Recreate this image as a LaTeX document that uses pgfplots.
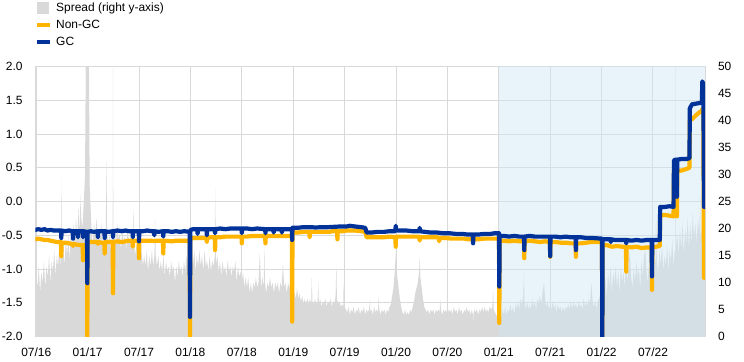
\documentclass[border=0pt]{standalone}
\usepackage{fontspec}
\setmainfont{Liberation Sans}
\usepackage{pgfplots}
\pgfplotsset{compat=1.18}
\definecolor{spreadgray}{RGB}{217,217,217}
\definecolor{gridgray}{RGB}{217,217,217}
\definecolor{ecbblue}{RGB}{0,50,153}
\definecolor{ecbyellow}{RGB}{255,180,0}
\definecolor{shade}{RGB}{205,230,244}
\pgfplotsset{linelegend/.style={legend image code/.code={\draw[##1, line cap=butt] (0bp,0bp)--(13bp,0bp);}}}

\begin{document}
\begin{tikzpicture}[font=\fontsize{12}{14}\selectfont]
\useasboundingbox (-35.5bp,-25.5bp) rectangle (708.5bp,336.5bp);
\begin{axis}[
  width=669.5bp, height=270bp, scale only axis,
  xmin=2016.493, xmax=2023.006,
  ymin=0, ymax=50,
  axis y line*=right, hide x axis,
  axis line style={draw=none},
  ytick={0,5,10,15,20,25,30,35,40,45,50},
  tick style={draw=none},
  yticklabel style={xshift=9.5bp, font=\fontsize{12}{14}\selectfont,
    /pgf/number format/assume math mode=true},
]
\addplot[fill=spreadgray, draw=none] coordinates {
(2016.4875,10) (2016.5,12) (2016.5125,9) (2016.525,13) (2016.5375,8) (2016.55,12) (2016.5625,10) (2016.575,14) (2016.5875,9) (2016.6,13)
(2016.6125,11) (2016.625,15) (2016.6375,10) (2016.65,14) (2016.6625,12) (2016.675,16) (2016.6875,11) (2016.7,15) (2016.7125,13) (2016.725,17)
(2016.7375,12) (2016.745,29) (2016.75,14)
(2016.7625,17) (2016.775,13) (2016.7875,18) (2016.8,15) (2016.8125,19) (2016.825,14) (2016.8375,20) (2016.85,16) (2016.8625,21) (2016.875,17)
(2016.8875,22) (2016.9,18) (2016.9125,24) (2016.925,19) (2016.93,26.5) (2016.9375,22) (2016.95,20) (2016.9625,25) (2016.975,30) (2016.985,60)
(2017.01,60) (2017.02,28)
(2017.0375,20) (2017.05,17) (2017.0625,21) (2017.075,18) (2017.0875,22) (2017.1,17) (2017.1125,20) (2017.125,18) (2017.1375,21) (2017.15,16)
(2017.1625,20) (2017.175,18) (2017.186,33) (2017.1875,21) (2017.2,17) (2017.2125,19) (2017.225,16) (2017.2375,20) (2017.244,18) (2017.247,60)
(2017.25,18) (2017.2625,20) (2017.275,17) (2017.2875,21) (2017.3,18) (2017.3125,19) (2017.325,16) (2017.3375,20) (2017.35,17) (2017.3625,19)
(2017.375,16) (2017.3875,20) (2017.4,18) (2017.4125,17) (2017.425,19) (2017.4375,16) (2017.445,24) (2017.45,18) (2017.4625,15) (2017.475,17)
(2017.4875,15) (2017.5,16)
(2017.5125,14) (2017.525,16) (2017.5375,13) (2017.55,15) (2017.5625,13) (2017.575,16) (2017.5875,12) (2017.6,15) (2017.6125,13) (2017.625,16)
(2017.6375,13) (2017.65,15) (2017.656,22) (2017.6625,15) (2017.675,13) (2017.6875,15) (2017.7,12) (2017.7125,14) (2017.725,12) (2017.7375,15)
(2017.75,11) (2017.7625,14) (2017.775,12) (2017.7875,13) (2017.8,11) (2017.8125,14) (2017.825,12) (2017.8375,13) (2017.85,10) (2017.8625,13)
(2017.875,11) (2017.8875,14) (2017.9,12) (2017.9125,13) (2017.925,11) (2017.9375,14) (2017.95,12) (2017.9625,15) (2017.975,13) (2017.9875,14)
(2018.0,12)
(2018.0125,15) (2018.025,13) (2018.0375,16) (2018.05,12) (2018.0625,15) (2018.075,13) (2018.0875,16) (2018.1,13) (2018.1125,15) (2018.125,12)
(2018.1375,16) (2018.15,13) (2018.1625,14) (2018.175,12) (2018.1875,15) (2018.2,12) (2018.2125,14) (2018.225,13) (2018.2375,15) (2018.24,27.7)
(2018.25,13) (2018.2625,15) (2018.275,12) (2018.2875,14) (2018.3,11) (2018.3125,14) (2018.325,12) (2018.3375,13) (2018.35,11) (2018.3625,14)
(2018.375,12) (2018.3875,13) (2018.4,11) (2018.4125,13) (2018.425,12) (2018.4375,14) (2018.45,10) (2018.4625,13) (2018.475,11) (2018.4875,12)
(2018.5,10)
(2018.5125,12) (2018.525,9) (2018.5375,11) (2018.55,9) (2018.5625,11) (2018.575,8) (2018.5875,10) (2018.6,8) (2018.6125,10) (2018.625,9)
(2018.6375,11) (2018.65,9) (2018.6625,10) (2018.675,15.5) (2018.6875,9) (2018.7,11) (2018.7125,9) (2018.72,16.7) (2018.725,10) (2018.7375,8)
(2018.75,10) (2018.7625,9) (2018.775,11) (2018.7875,9) (2018.8,10) (2018.8125,8) (2018.825,10) (2018.8375,9) (2018.85,10) (2018.8625,8)
(2018.875,10) (2018.8875,9) (2018.9,13.6) (2018.9125,9) (2018.925,10) (2018.9375,8) (2018.95,10) (2018.9625,9) (2018.975,10) (2018.9875,8)
(2019.0,9)
(2019.0125,8) (2019.025,7) (2019.0375,9) (2019.05,7) (2019.0625,8) (2019.075,6.5) (2019.0875,7.5) (2019.1,6) (2019.1125,7) (2019.125,6)
(2019.1375,7) (2019.15,6) (2019.1625,7) (2019.175,6) (2019.18,11) (2019.1875,6.5) (2019.2,6) (2019.2125,7) (2019.225,6) (2019.2375,6.5)
(2019.244,10) (2019.25,6) (2019.2625,7) (2019.275,5.5) (2019.2875,6.5) (2019.3,6) (2019.3125,7) (2019.325,5.5) (2019.3375,6.5) (2019.35,6)
(2019.3625,7) (2019.375,5.5) (2019.3875,6.5) (2019.4,6) (2019.4125,7.5) (2019.42,13.5) (2019.425,7) (2019.4375,6) (2019.45,6.5) (2019.4625,5.5)
(2019.475,6) (2019.4875,5.5) (2019.49,10) (2019.5,5.5)
(2019.5125,5) (2019.525,4.5) (2019.5375,5.5) (2019.55,4) (2019.5625,5) (2019.575,4.5) (2019.5875,5.5) (2019.6,4) (2019.6125,5) (2019.625,4.5)
(2019.6375,5.5) (2019.65,4) (2019.6625,5) (2019.675,4.5) (2019.6875,5.5) (2019.7,4) (2019.7125,5) (2019.725,4.5) (2019.7375,5) (2019.7475,6.8)
(2019.75,4.5) (2019.7625,5) (2019.775,4) (2019.7875,5.5) (2019.8,4.5) (2019.8125,5) (2019.825,4.5) (2019.83,7.3) (2019.8375,5) (2019.85,4)
(2019.8625,5) (2019.875,4.5) (2019.8875,5) (2019.9,4) (2019.9125,5) (2019.925,4.5) (2019.9375,5.5) (2019.95,6)
(2019.9625,7.5) (2019.975,9) (2019.9875,12) (2020.0,16) (2020.0125,11) (2020.025,9) (2020.0375,7) (2020.05,5.5)
(2020.0625,4.5) (2020.075,4) (2020.0875,5) (2020.1,4) (2020.1125,4.5) (2020.125,4) (2020.1375,5) (2020.15,4.5) (2020.1625,5.5) (2020.175,6.5)
(2020.1875,8) (2020.2,9) (2020.2125,10) (2020.225,12) (2020.23,14.8) (2020.2375,11) (2020.25,9) (2020.2625,7) (2020.275,5.5) (2020.2875,5)
(2020.3,4.5) (2020.3125,5) (2020.325,4) (2020.3375,5) (2020.35,4.5) (2020.3625,5) (2020.375,4) (2020.3875,5) (2020.4,4.5) (2020.4125,5)
(2020.425,4.5) (2020.43,6.8) (2020.4375,5) (2020.45,4) (2020.4625,5) (2020.475,4.5) (2020.4875,5) (2020.5,4) (2020.5125,5) (2020.525,4.5)
(2020.5375,5) (2020.55,4) (2020.5625,5.5) (2020.575,4.5) (2020.5875,5) (2020.6,4) (2020.6125,5.5) (2020.625,4.5) (2020.6375,5) (2020.65,4)
(2020.6625,5) (2020.675,4.5) (2020.6875,5.5) (2020.7,4.5) (2020.7125,5) (2020.725,4) (2020.7375,5) (2020.748,4) (2020.75,0.5) (2020.752,4)
(2020.7625,5) (2020.775,4.5) (2020.7875,5) (2020.8,4) (2020.8125,5) (2020.825,4.5) (2020.8375,5.5) (2020.85,4.5) (2020.8625,5.5) (2020.875,4.5)
(2020.8875,5) (2020.9,4.5) (2020.9125,5.5) (2020.925,5) (2020.9375,5.5) (2020.945,8.6) (2020.95,5) (2020.9625,4.5) (2020.975,4) (2020.9875,3.5)
(2021.0,3.5) (2021.0125,4.5) (2021.025,3.5) (2021.0375,5) (2021.05,4) (2021.0625,5.5) (2021.075,4) (2021.0875,5) (2021.1,4.5) (2021.1125,6)
(2021.125,4.5) (2021.1375,5.5) (2021.15,4) (2021.1625,6) (2021.175,5) (2021.1875,6.5) (2021.2,5) (2021.2125,7) (2021.225,6) (2021.2375,7.5)
(2021.245,12) (2021.25,6.5) (2021.2625,5) (2021.275,6.5) (2021.2875,5) (2021.3,6) (2021.3125,5) (2021.325,7) (2021.3375,5.5) (2021.35,6.5)
(2021.3625,5) (2021.375,7) (2021.3875,6) (2021.4,7.5) (2021.4125,6) (2021.425,8) (2021.44,10) (2021.45,7) (2021.4625,5.5) (2021.475,6.5)
(2021.4875,5) (2021.5,6) (2021.5125,5) (2021.525,6.5) (2021.5375,5) (2021.55,6) (2021.5625,4.5) (2021.575,6) (2021.5875,5) (2021.6,5.5)
(2021.6125,4.5) (2021.625,5.5) (2021.6375,4.5) (2021.65,5.5) (2021.6625,5) (2021.675,6) (2021.6875,5) (2021.7,6.5) (2021.7125,5) (2021.725,6.5)
(2021.7375,5.5) (2021.75,6) (2021.7625,5) (2021.775,6.5) (2021.7875,5.5) (2021.8,6) (2021.8125,5) (2021.825,7) (2021.8375,5.5) (2021.85,6.5)
(2021.8625,5.5) (2021.875,7) (2021.8875,6) (2021.9,10) (2021.9125,6.5) (2021.925,5.5) (2021.9375,6.5) (2021.95,5) (2021.9625,6.5) (2021.975,7)
(2021.9875,8)
(2022.0,9) (2022.0125,12) (2022.025,8) (2022.0375,11) (2022.05,7) (2022.0625,12) (2022.075,9) (2022.0875,13) (2022.1,8) (2022.1125,12)
(2022.125,10) (2022.1375,13) (2022.15,9) (2022.1625,12) (2022.175,8) (2022.1875,13) (2022.2,10) (2022.2125,12) (2022.225,9) (2022.2375,14)
(2022.25,10) (2022.2625,13) (2022.275,16) (2022.2875,11) (2022.3,9) (2022.3125,13) (2022.325,10) (2022.3375,14) (2022.35,11) (2022.3625,13)
(2022.375,9) (2022.3875,14) (2022.4,11) (2022.4125,15) (2022.425,16) (2022.4375,12) (2022.45,10) (2022.4625,14) (2022.475,11) (2022.4875,15)
(2022.5,12)
(2022.5125,16) (2022.525,13) (2022.53,21.6) (2022.5375,14) (2022.55,12) (2022.5625,16) (2022.575,13) (2022.5875,17) (2022.6,12) (2022.6125,15)
(2022.625,13) (2022.6375,17) (2022.65,12) (2022.6625,16) (2022.675,14) (2022.6875,18) (2022.7,13) (2022.7125,16) (2022.718,15) (2022.721,60)
(2022.724,16)
(2022.7375,19) (2022.75,15) (2022.7625,20) (2022.775,16) (2022.7875,21) (2022.8,15) (2022.8125,20) (2022.825,17) (2022.8375,22) (2022.85,16)
(2022.8625,21) (2022.875,17) (2022.8875,23) (2022.9,18) (2022.9125,21) (2022.925,17) (2022.9375,22) (2022.95,19) (2022.96,25.8) (2022.9625,18)
(2022.975,20) (2022.9875,14) (2023.0,11) (2023.006,10)
} \closedcycle;
\end{axis}

\begin{axis}[
  width=669.5bp, height=270bp, scale only axis,
  xmin=2016.493, xmax=2023.006,
  ymin=-2, ymax=2,
  xtick={2016.5,2017,2017.5,2018,2018.5,2019,2019.5,2020,2020.5,2021,2021.5,2022,2022.5},
  xticklabels={07/16,01/17,07/17,01/18,07/18,01/19,07/19,01/20,07/20,01/21,07/21,01/22,07/22},
  ytick={-2,-1.5,-1,-0.5,0,0.5,1,1.5,2},
  yticklabel style={xshift=-9.5bp, font=\fontsize{12}{14}\selectfont,
    /pgf/number format/.cd, fixed, fixed zerofill, precision=1, assume math mode=true},
  xticklabel style={yshift=-7.5bp, font=\fontsize{12}{14}\selectfont},
  grid=major, major grid style={gridgray, line width=1bp},
  axis line style={gridgray, line width=1bp},
  tick style={draw=none},
  legend cell align=left,
  legend style={at={(0,1)}, anchor=south west, xshift=-0.5bp, yshift=18.75bp,
    draw=none, fill=none, inner sep=0pt, outer sep=0pt,
    row sep=5.5bp, column sep=4bp,
    nodes={inner sep=0pt, text height=9bp, text depth=2.5bp, font=\fontsize{12}{14}\selectfont}},
]
\addplot[draw=none, fill=shade, fill opacity=0.45, forget plot]
  coordinates {(2021.0,-2.5) (2021.0,2.5) (2023.2,2.5) (2023.2,-2.5) (2021.0,-2.5)};
\addlegendimage{legend image code/.code={\fill[spreadgray] (0bp,-5.5bp) rectangle (11bp,5.5bp);}}
\addlegendentry{Spread (right y-axis)}
\addplot[ecbyellow, line width=4.2bp, line join=round, line cap=round, linelegend]
coordinates {
(2016.495,-0.56) (2016.52,-0.55) (2016.55,-0.56) (2016.58,-0.57) (2016.61,-0.57) (2016.64,-0.58) (2016.67,-0.59) (2016.70,-0.60)
(2016.741,-0.60)(2016.744,-0.81)(2016.747,-0.61)
(2016.78,-0.61) (2016.82,-0.62)
(2016.855,-0.63)(2016.858,-0.66)(2016.861,-0.63)
(2016.90,-0.64) (2016.93,-0.645)
(2016.952,-0.645)(2016.955,-0.87)(2016.958,-0.645)
(2016.994,-0.65)(2016.997,-2.10)(2017.000,-0.60)
(2017.04,-0.60)
(2017.097,-0.60)(2017.100,-0.63)(2017.103,-0.60)
(2017.13,-0.61)
(2017.163,-0.61)(2017.166,-0.77)(2017.169,-0.60)
(2017.20,-0.60)
(2017.244,-0.60)(2017.247,-1.36)(2017.250,-0.60)
(2017.29,-0.59) (2017.33,-0.60) (2017.37,-0.59) (2017.40,-0.58)
(2017.437,-0.58)(2017.440,-0.67)(2017.443,-0.58)
(2017.47,-0.58)
(2017.497,-0.58)(2017.500,-0.84)(2017.503,-0.58)
(2017.55,-0.58) (2017.60,-0.58) (2017.65,-0.585) (2017.69,-0.58)
(2017.733,-0.58)(2017.736,-0.77)(2017.739,-0.58)
(2017.78,-0.585) (2017.82,-0.59) (2017.86,-0.58) (2017.90,-0.58) (2017.94,-0.58)
(2017.993,-0.58)(2017.996,-2.10)(2017.999,-0.55)
(2018.04,-0.54) (2018.08,-0.54)
(2018.157,-0.54)(2018.160,-0.60)(2018.163,-0.54)
(2018.20,-0.53)
(2018.237,-0.53)(2018.240,-0.72)(2018.243,-0.53)
(2018.29,-0.53) (2018.34,-0.52) (2018.39,-0.52) (2018.44,-0.52)
(2018.497,-0.52)(2018.500,-0.62)(2018.503,-0.52)
(2018.55,-0.52) (2018.60,-0.51) (2018.65,-0.51)
(2018.727,-0.51)(2018.730,-0.62)(2018.733,-0.51)
(2018.78,-0.51) (2018.85,-0.51) (2018.92,-0.51)
(2018.987,-0.51)(2018.990,-1.78)(2018.993,-0.46)
(2019.04,-0.46) (2019.10,-0.45)
(2019.157,-0.45)(2019.160,-0.53)(2019.163,-0.45)
(2019.22,-0.45) (2019.28,-0.45) (2019.34,-0.45) (2019.39,-0.44)
(2019.427,-0.44)(2019.430,-0.56)(2019.433,-0.44)
(2019.48,-0.44) (2019.52,-0.43) (2019.55,-0.43) (2019.60,-0.43) (2019.66,-0.44) (2019.70,-0.45)
(2019.715,-0.53) (2019.76,-0.53) (2019.82,-0.53) (2019.88,-0.53) (2019.94,-0.52)
(2019.994,-0.53)(2019.997,-0.67)(2020.000,-0.52)
(2020.05,-0.52) (2020.10,-0.52) (2020.16,-0.52)
(2020.227,-0.52)(2020.230,-0.58)(2020.233,-0.53)
(2020.28,-0.53) (2020.34,-0.53) (2020.40,-0.53)
(2020.417,-0.54)(2020.420,-0.59)(2020.423,-0.54)
(2020.48,-0.54) (2020.54,-0.55) (2020.60,-0.55) (2020.66,-0.55) (2020.70,-0.56)
(2020.747,-0.56)(2020.750,-0.60)(2020.753,-0.56)
(2020.80,-0.56) (2020.86,-0.55) (2020.92,-0.55) (2020.96,-0.55)
(2021.002,-0.55)(2021.005,-1.80)(2021.008,-0.58)
(2021.05,-0.58) (2021.10,-0.59) (2021.15,-0.58) (2021.20,-0.59)
(2021.245,-0.59)(2021.248,-0.84)(2021.251,-0.59)
(2021.30,-0.58) (2021.35,-0.59) (2021.40,-0.60) (2021.45,-0.59)
(2021.497,-0.60)(2021.500,-0.82)(2021.503,-0.60)
(2021.55,-0.60) (2021.60,-0.61) (2021.65,-0.61) (2021.70,-0.62)
(2021.747,-0.62)(2021.750,-0.82)(2021.753,-0.62)
(2021.80,-0.62) (2021.85,-0.61) (2021.90,-0.60) (2021.95,-0.60)
(2022.004,-0.60)(2022.007,-2.10)(2022.010,-0.64)
(2022.06,-0.65) (2022.10,-0.67) (2022.15,-0.66) (2022.20,-0.67)
(2022.237,-0.67)(2022.240,-1.04)(2022.243,-0.67)
(2022.29,-0.68) (2022.34,-0.67) (2022.39,-0.69) (2022.44,-0.68)
(2022.487,-0.68)(2022.490,-1.31)(2022.493,-0.67)
(2022.53,-0.67) (2022.566,-0.66)
(2022.570,-0.20) (2022.62,-0.20) (2022.66,-0.21) (2022.700,-0.22)
(2022.704,0.47) (2022.718,0.46)
(2022.730,0.46)(2022.733,-0.22)(2022.736,0.45)
(2022.78,0.46) (2022.82,0.48) (2022.855,0.50)
(2022.858,1.21) (2022.88,1.22) (2022.92,1.28) (2022.96,1.33) (2022.975,1.34) (2022.980,1.37) (2022.990,1.33)
(2022.996,-1.13) (2023.006,-1.13)
};
\addlegendentry{Non-GC}
\addplot[ecbblue, line width=4.2bp, line join=round, line cap=round, linelegend]
coordinates {
(2016.495,-0.42) (2016.52,-0.41) (2016.55,-0.42) (2016.58,-0.41) (2016.61,-0.43) (2016.64,-0.42) (2016.67,-0.43) (2016.70,-0.43)
(2016.741,-0.43)(2016.744,-0.54)(2016.747,-0.43)
(2016.78,-0.44) (2016.82,-0.43)
(2016.855,-0.44)(2016.858,-0.55)(2016.861,-0.44)
(2016.903,-0.44)(2016.906,-0.53)(2016.909,-0.44)
(2016.93,-0.44)
(2016.952,-0.44)(2016.955,-0.53)(2016.958,-0.44)
(2016.994,-0.45)(2016.997,-1.21)(2017.000,-0.45)
(2017.03,-0.44) (2017.06,-0.45)
(2017.097,-0.44)(2017.100,-0.53)(2017.103,-0.44)
(2017.13,-0.44)
(2017.163,-0.44)(2017.166,-0.54)(2017.169,-0.44)
(2017.20,-0.45)
(2017.244,-0.44)(2017.247,-0.53)(2017.250,-0.44)
(2017.29,-0.43) (2017.33,-0.44) (2017.37,-0.43) (2017.40,-0.44)
(2017.437,-0.44)(2017.440,-0.53)(2017.443,-0.44)
(2017.47,-0.44)
(2017.497,-0.44)(2017.500,-0.59)(2017.503,-0.44)
(2017.54,-0.44) (2017.58,-0.43) (2017.62,-0.44)
(2017.646,-0.44)(2017.649,-0.50)(2017.652,-0.44)
(2017.69,-0.45)
(2017.733,-0.44)(2017.736,-0.52)(2017.739,-0.44)
(2017.78,-0.44) (2017.82,-0.45) (2017.86,-0.44) (2017.90,-0.45) (2017.94,-0.44)
(2017.993,-0.45)(2017.996,-1.71)(2017.999,-0.42)
(2018.03,-0.41)
(2018.067,-0.41)(2018.070,-0.48)(2018.073,-0.41)
(2018.11,-0.41)
(2018.157,-0.41)(2018.160,-0.50)(2018.163,-0.41)
(2018.20,-0.41)
(2018.237,-0.41)(2018.240,-0.47)(2018.243,-0.41)
(2018.29,-0.40) (2018.34,-0.41) (2018.39,-0.40) (2018.44,-0.40)
(2018.497,-0.40)(2018.500,-0.47)(2018.503,-0.40)
(2018.55,-0.40) (2018.60,-0.41) (2018.65,-0.40)
(2018.727,-0.41)(2018.730,-0.47)(2018.733,-0.41)
(2018.78,-0.41)
(2018.807,-0.41)(2018.810,-0.46)(2018.813,-0.41)
(2018.85,-0.41)
(2018.887,-0.41)(2018.890,-0.46)(2018.893,-0.41)
(2018.94,-0.41)
(2018.987,-0.41)(2018.990,-0.57)(2018.993,-0.39)
(2019.04,-0.39) (2019.10,-0.38) (2019.16,-0.38) (2019.22,-0.385) (2019.28,-0.38) (2019.34,-0.38) (2019.40,-0.375)
(2019.46,-0.37) (2019.52,-0.37) (2019.55,-0.36) (2019.60,-0.37) (2019.66,-0.38) (2019.70,-0.39)
(2019.715,-0.46) (2019.76,-0.46) (2019.82,-0.45) (2019.88,-0.45) (2019.94,-0.44)
(2019.994,-0.44)(2019.997,-0.36)(2020.000,-0.43)
(2020.05,-0.43) (2020.10,-0.43) (2020.16,-0.44)
(2020.227,-0.44)(2020.230,-0.39)(2020.233,-0.44)
(2020.28,-0.45) (2020.34,-0.46) (2020.40,-0.46) (2020.46,-0.47) (2020.52,-0.47) (2020.58,-0.48) (2020.64,-0.48) (2020.70,-0.49)
(2020.747,-0.49)(2020.750,-0.62)(2020.753,-0.49)
(2020.80,-0.49) (2020.86,-0.48) (2020.92,-0.48) (2020.96,-0.47)
(2021.002,-0.47)(2021.005,-1.26)(2021.008,-0.51)
(2021.05,-0.51) (2021.10,-0.52) (2021.15,-0.51) (2021.20,-0.52)
(2021.245,-0.52)(2021.248,-0.72)(2021.251,-0.52)
(2021.30,-0.51) (2021.35,-0.52) (2021.40,-0.52) (2021.45,-0.52)
(2021.497,-0.52)(2021.500,-0.81)(2021.503,-0.52)
(2021.55,-0.52) (2021.60,-0.53) (2021.65,-0.52) (2021.70,-0.53)
(2021.747,-0.53)(2021.750,-0.72)(2021.753,-0.53)
(2021.80,-0.53) (2021.85,-0.54) (2021.90,-0.54) (2021.95,-0.545)
(2022.004,-0.55)(2022.007,-2.10)(2022.010,-0.56)
(2022.06,-0.56)
(2022.087,-0.56)(2022.090,-0.60)(2022.093,-0.56)
(2022.13,-0.57) (2022.18,-0.57)
(2022.237,-0.57)(2022.240,-0.62)(2022.243,-0.57)
(2022.29,-0.58) (2022.34,-0.57) (2022.39,-0.58) (2022.44,-0.57)
(2022.487,-0.57)(2022.490,-1.11)(2022.493,-0.57)
(2022.53,-0.57) (2022.566,-0.57)
(2022.570,-0.08) (2022.62,-0.08) (2022.66,-0.07) (2022.700,-0.08)
(2022.704,0.61) (2022.718,0.62)
(2022.730,0.62)(2022.733,0.07)(2022.736,0.62)
(2022.78,0.63) (2022.82,0.63) (2022.855,0.64)
(2022.858,1.38) (2022.88,1.44) (2022.92,1.45) (2022.96,1.46) (2022.975,1.47) (2022.980,1.78) (2022.990,1.74)
(2022.996,-0.08) (2023.006,-0.08)
};
\addlegendentry{GC}
\end{axis}
\end{tikzpicture}
\end{document}
